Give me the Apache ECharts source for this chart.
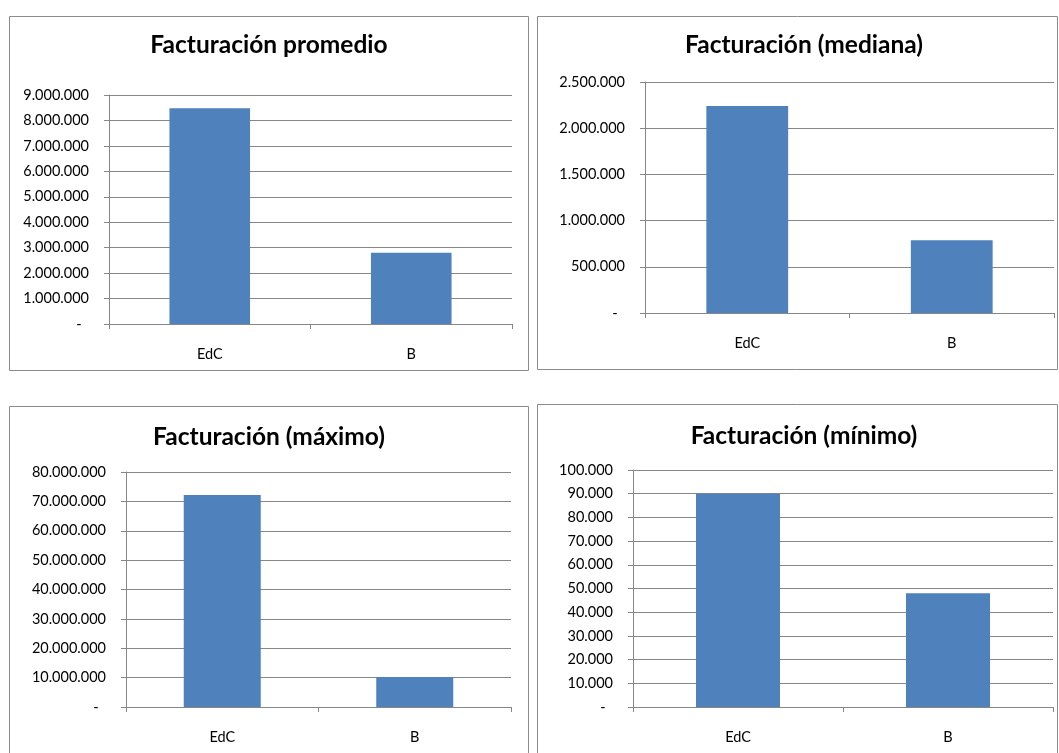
<!DOCTYPE html>
<html>
<head>
<meta charset="utf-8">
<script src="https://cdn.jsdelivr.net/npm/echarts@6/dist/echarts.min.js"></script>
<style>
  html, body { margin: 0; padding: 0; background: #ffffff; }
  #chart { width: 1059px; height: 753px; }
</style>
</head>
<body>
<div id="chart"></div>
<script>
// Categories and values for the four revenue panels
const categories = ['EdC', 'B'];
const promedio = [8480000, 2800000];
const mediana = [2240000, 786000];
const maximo = [72200000, 10200000];
const minimo = [90000, 48000];

const chartTitles = ['Facturación promedio', 'Facturación (mediana)', 'Facturación (máximo)', 'Facturación (mínimo)'];
const axisMax = [9000000, 2500000, 80000000, 100000];
const axisStep = [1000000, 500000, 10000000, 10000];
const seriesValues = [promedio, mediana, maximo, minimo];

// Panel layout: frame rectangle, plot area, title anchor
const panels = [
  { frame: [9.5, 16.5, 519, 354], grid: { left: 109, top: 95, width: 403, height: 229 }, title: [269, 45] },
  { frame: [537.5, 16.5, 520, 353], grid: { left: 645, top: 82, width: 409, height: 231 }, title: [804, 45] },
  { frame: [9.5, 406.5, 519, 360], grid: { left: 126, top: 472, width: 385, height: 235 }, title: [269, 437] },
  { frame: [537.5, 404.5, 520, 360], grid: { left: 633, top: 470, width: 420, height: 237 }, title: [804, 436] }
];

const FONT = 'Lato, "Open Sans", sans-serif';
const GRAY = '#878787';
const BAR = '#4F81BD';

function fmt(v) {
  if (v === 0) return '-  ';
  return String(v).replace(/\B(?=(\d{3})+(?!\d))/g, '.');
}

const option = {
  animation: false,
  backgroundColor: '#ffffff',
  title: panels.map((p, i) => ({
    text: chartTitles[i],
    left: p.title[0],
    top: p.title[1],
    textAlign: 'center',
    textVerticalAlign: 'middle',
    padding: 0,
    textStyle: { fontFamily: FONT, fontWeight: 'bold', fontSize: 24.5, color: '#000000' }
  })),
  graphic: panels.map(p => ({
    type: 'rect',
    silent: true,
    z: -1,
    shape: { x: p.frame[0], y: p.frame[1], width: p.frame[2], height: p.frame[3] },
    style: { fill: 'none', stroke: '#8c8c8c', lineWidth: 1 }
  })),
  grid: panels.map(p => Object.assign({ containLabel: false, outerBoundsMode: 'none' }, p.grid)),
  xAxis: panels.map((p, i) => ({
    type: 'category',
    gridIndex: i,
    data: categories,
    boundaryGap: true,
    axisLine: { show: true, lineStyle: { color: GRAY, width: 1 } },
    axisTick: { show: true, length: 5, alignWithLabel: false, lineStyle: { color: GRAY } },
    axisLabel: { margin: 23, fontFamily: FONT, fontSize: 14.5, color: '#000000' },
    splitLine: { show: false }
  })),
  yAxis: panels.map((p, i) => ({
    type: 'value',
    gridIndex: i,
    min: 0,
    max: axisMax[i],
    interval: axisStep[i],
    axisLine: { show: true, lineStyle: { color: GRAY, width: 1 } },
    axisTick: { show: true, length: 5, lineStyle: { color: GRAY } },
    axisLabel: { margin: 20, fontFamily: FONT, fontSize: 14.5, color: '#000000', formatter: fmt },
    splitLine: { show: true, lineStyle: { color: GRAY, width: 1 } }
  })),
  series: panels.map((p, i) => ({
    type: 'bar',
    xAxisIndex: i,
    yAxisIndex: i,
    data: seriesValues[i],
    barWidth: '40%',
    itemStyle: { color: BAR }
  }))
};

const chart = echarts.init(document.getElementById('chart'), null, { renderer: 'canvas' });
chart.setOption(option);
</script>
</body>
</html>
